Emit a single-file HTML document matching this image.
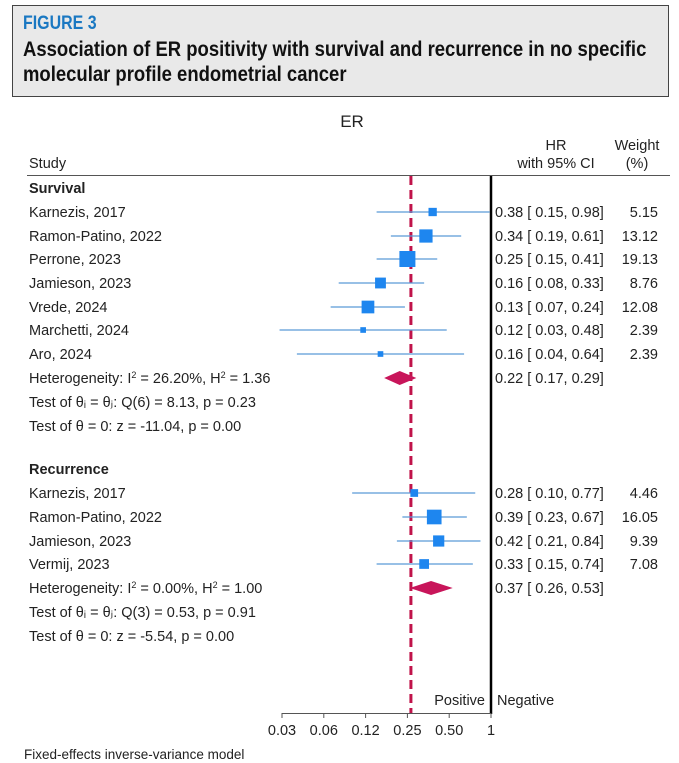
<!DOCTYPE html>
<html><head><meta charset="utf-8"><style>
body{margin:0;width:679px;height:763px;background:#fff;overflow:hidden;font-family:"Liberation Sans",sans-serif;}
#hdr{position:absolute;left:12px;top:5px;width:655px;height:90px;background:#e9e9e9;border:1.5px solid #444;}
.cond{position:absolute;left:10px;white-space:nowrap;transform-origin:0 0;transform:scaleX(0.84);font-weight:bold;}
#fig{top:7px;color:#1a78c2;font-size:19px;}
#ttl{top:31px;color:#111;font-size:21px;line-height:25px;transform:scaleX(0.88);}
svg{position:absolute;left:0;top:0;}
svg text{font-family:"Liberation Sans",sans-serif;font-size:14.5px;fill:#222;}
</style></head><body>
<div id="hdr">
<div id="fig" class="cond">FIGURE 3</div>
<div id="ttl" class="cond">Association of ER positivity with survival and recurrence in no specific<br>molecular profile endometrial cancer</div>
</div>
<svg id="c" width="679" height="763"></svg>
<script>
const studies=["Karnezis, 2017","Ramon-Patino, 2022","Perrone, 2023","Jamieson, 2023","Vrede, 2024","Marchetti, 2024","Aro, 2024","Karnezis, 2017","Ramon-Patino, 2022","Jamieson, 2023","Vermij, 2023"];
const hr=[0.38,0.34,0.25,0.16,0.13,0.12,0.16,0.28,0.39,0.42,0.33];
const lo=[0.15,0.19,0.15,0.08,0.07,0.03,0.04,0.10,0.23,0.21,0.15];
const hi=[0.98,0.61,0.41,0.33,0.24,0.48,0.64,0.77,0.67,0.84,0.74];
const wt=[5.15,13.12,19.13,8.76,12.08,2.39,2.39,4.46,16.05,9.39,7.08];
const rowY=[212,236,259,283,307,330,354,493,517,541,564];
const pooled=[0.22,0.37],pLo=[0.17,0.26],pHi=[0.29,0.53],pY=[378,588];
const overall=0.265;
const ticks=[0.03125,0.0625,0.125,0.25,0.5,1],tickLab=["0.03","0.06","0.12","0.25","0.50","1"];
const X=v=>491+41.8*Math.log2(v);
const svg=document.getElementById('c');const NS='http://www.w3.org/2000/svg';
function mk(t,a,txt){const e=document.createElementNS(NS,t);for(const k in a)e.setAttribute(k,a[k]);if(txt!=null)e.textContent=txt;svg.appendChild(e);return e;}
const f=v=>v.toFixed(2);
let e;
e=mk('text',{x:352,y:127,'text-anchor':'middle'},'ER');e.style.fontSize='17px';

e=mk('text',{x:29,y:168},'Study');
e=mk('text',{x:556,y:150,'text-anchor':'middle'},'HR');
mk('text',{x:556,y:168,'text-anchor':'middle'},'with 95% CI');
e=mk('text',{x:637,y:150,'text-anchor':'middle'},'Weight');
mk('text',{x:637,y:168,'text-anchor':'middle'},'(%)');
e=mk('line',{x1:27,x2:670,y1:175.5,y2:175.5,stroke:'#555','stroke-width':1});
e=mk('line',{x1:X(overall),x2:X(overall),y1:176,y2:713,stroke:'#c0134a','stroke-width':3,'stroke-dasharray':'9,5'});

e=mk('line',{x1:491,x2:491,y1:176,y2:714,stroke:'#000','stroke-width':2.5});
e=mk('line',{x1:X(ticks[0]),x2:491,y1:713.5,y2:713.5,stroke:'#555','stroke-width':1});
ticks.forEach((t,i)=>{mk('line',{x1:X(t),x2:X(t),y1:713,y2:718,stroke:'#555'});
e=mk('text',{x:X(t),y:735,'text-anchor':'middle'},tickLab[i]);});
mk('text',{x:485,y:705,'text-anchor':'end'},'Positive');mk('text',{x:497,y:705},'Negative');
e=mk('text',{x:29,y:193,'font-weight':'bold'},'Survival');
e=mk('text',{x:29,y:474,'font-weight':'bold'},'Recurrence');
studies.forEach((s,i)=>{const y=rowY[i];
mk('text',{x:29,y:y+5},s);
e=mk('line',{x1:X(lo[i]),x2:Math.min(X(hi[i]),491),y1:y,y2:y,stroke:'#5b9bd8','stroke-width':1.3});

const sz=16*Math.sqrt(wt[i]/19.13);
e=mk('rect',{x:X(hr[i])-sz/2,y:y-sz/2,width:sz,height:sz,fill:'#1e86ef'});

mk('text',{x:495,y:y+5},f(hr[i])+' [ '+f(lo[i])+', '+f(hi[i])+']');
mk('text',{x:658,y:y+5,'text-anchor':'end'},f(wt[i]));});
const het=[["Heterogeneity: I","2"," = 26.20%, H","2"," = 1.36"],["Heterogeneity: I","2"," = 0.00%, H","2"," = 1.00"]];
const tests=[["Q(6) = 8.13, p = 0.23","z = -11.04, p = 0.00"],["Q(3) = 0.53, p = 0.91","z = -5.54, p = 0.00"]];
pooled.forEach((p,i)=>{const y=pY[i];
e=mk('polygon',{points:`${X(pLo[i])},${y} ${X(p)},${y-7} ${X(pHi[i])},${y} ${X(p)},${y+7}`,fill:'#c8155a'});

mk('text',{x:495,y:y+5},f(p)+' [ '+f(pLo[i])+', '+f(pHi[i])+']');
const h=het[i];const t=mk('text',{x:29,y:y+5});
h.forEach((s,k)=>{const ts=document.createElementNS(NS,'tspan');ts.textContent=s;if(k%2==1){ts.setAttribute('dy','-5');ts.setAttribute('font-size','9');}else if(k>0){ts.setAttribute('dy','5');}t.appendChild(ts);});
mk('text',{x:29,y:y+29},'Test of θᵢ = θⱼ: '+tests[i][0]);
mk('text',{x:29,y:y+53},'Test of θ = 0: '+tests[i][1]);});
e=mk('text',{x:24,y:759},'Fixed-effects inverse-variance model');e.style.fontSize='13.5px';

</script>
</body></html>
